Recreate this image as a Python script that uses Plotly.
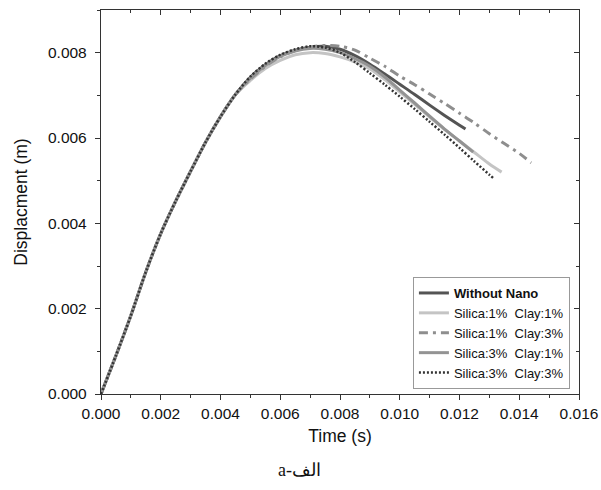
import plotly.graph_objects as go

# ---- data ----
t_rise = [0.0, 0.0005, 0.001, 0.0015, 0.002, 0.0025, 0.003, 0.0035, 0.004, 0.0045]
d_rise = [0.0, 0.00090, 0.00184, 0.00286, 0.00376, 0.00452, 0.00522, 0.00590, 0.00650, 0.00702]

t_without = t_rise + [0.005, 0.0055, 0.006, 0.0065, 0.007, 0.0075, 0.008, 0.0085, 0.009, 0.0095,
                      0.010, 0.0105, 0.011, 0.0115, 0.012, 0.0122]
d_without = d_rise + [0.00742, 0.00772, 0.00793, 0.00806, 0.00813, 0.00815, 0.00808, 0.00793, 0.00773,
                      0.00750, 0.00726, 0.00702, 0.00677, 0.00653, 0.00630, 0.00621]

t_s1c1 = t_rise + [0.005, 0.0055, 0.006, 0.0065, 0.007, 0.0075, 0.008, 0.0085, 0.009, 0.0095,
                   0.010, 0.0105, 0.011, 0.0115, 0.012, 0.0125, 0.013, 0.01341]
d_s1c1 = d_rise + [0.00735, 0.00763, 0.00782, 0.00795, 0.00800, 0.00798, 0.00790, 0.00778, 0.00762,
                   0.00737, 0.00708, 0.00679, 0.00649, 0.00620, 0.00593, 0.00566, 0.00539, 0.00520]

t_s1c3 = t_rise + [0.005, 0.0055, 0.006, 0.0065, 0.007, 0.0075, 0.008, 0.0085, 0.009, 0.0095,
                   0.010, 0.0105, 0.011, 0.0115, 0.012, 0.0125, 0.013, 0.0135, 0.014, 0.0144]
d_s1c3 = d_rise + [0.00738, 0.00768, 0.00790, 0.00805, 0.00813, 0.00817, 0.00815, 0.00806, 0.00787,
                   0.00768, 0.00745, 0.00725, 0.00703, 0.00681, 0.00658, 0.00635, 0.00610, 0.00587,
                   0.00564, 0.00542]

t_s3c1 = t_rise + [0.005, 0.0055, 0.006, 0.0065, 0.007, 0.0075, 0.008, 0.0085, 0.009, 0.0095,
                   0.010, 0.0105, 0.011, 0.0115, 0.012, 0.01246]
d_s3c1 = d_rise + [0.00740, 0.00770, 0.00791, 0.00804, 0.00810, 0.00808, 0.00800, 0.00786, 0.00768,
                   0.00743, 0.00712, 0.00682, 0.00651, 0.00621, 0.00593, 0.00567]

t_s3c3 = t_rise + [0.005, 0.0055, 0.006, 0.0065, 0.007, 0.0075, 0.008, 0.0085, 0.009, 0.0095,
                   0.010, 0.0105, 0.011, 0.0115, 0.012, 0.0125, 0.013, 0.01315]
d_s3c3 = d_rise + [0.00744, 0.00774, 0.00795, 0.00808, 0.00815, 0.00812, 0.00800, 0.00778, 0.00752,
                   0.00725, 0.00697, 0.00668, 0.00638, 0.00608, 0.00577, 0.00545, 0.00514, 0.00505]

names = ["<b>Without Nano</b>", "Silica:1%  Clay:1%", "Silica:1%  Clay:3%",
         "Silica:3%  Clay:1%", "Silica:3%  Clay:3%"]
x_ticks = [0.000, 0.002, 0.004, 0.006, 0.008, 0.010, 0.012, 0.014, 0.016]
y_ticks = [0.000, 0.002, 0.004, 0.006, 0.008]

series = [
    (t_without, d_without, dict(color="#545454", width=3, dash="solid")),
    (t_s1c1, d_s1c1, dict(color="#c4c4c4", width=3, dash="solid")),
    (t_s1c3, d_s1c3, dict(color="#8e8e8e", width=3, dash="9px,5px,3px,5px")),
    (t_s3c1, d_s3c1, dict(color="#939393", width=3, dash="solid")),
    (t_s3c3, d_s3c3, dict(color="#333333", width=2.5, dash="2px,2px")),
]

fig = go.Figure()
for (tx, dy, ln), nm in zip(series, names):
    ln = dict(ln, shape="spline", smoothing=0.8)
    fig.add_trace(go.Scatter(x=tx, y=dy, mode="lines", name=nm, line=ln))

# invisible helper trace to draw the top/right inner-tick axes
fig.add_trace(go.Scatter(x=t_without, y=d_without, xaxis="x2", yaxis="y2", mode="lines",
                         line=dict(width=0), opacity=0, showlegend=False, hoverinfo="skip"))

font_main = "Liberation Sans, Arial, sans-serif"
common = dict(showgrid=False, zeroline=False, showline=True, linecolor="#333333", linewidth=1.3,
              tickcolor="#333333", ticklen=5, tickwidth=1.2, automargin=False)

fig.update_layout(
    width=601, height=490,
    margin=dict(l=101, r=22, t=10, b=96),
    paper_bgcolor="white", plot_bgcolor="white",
    font=dict(family=font_main, size=15.5, color="#111111"),
    showlegend=True,
    legend=dict(x=0.981, y=0.013, xanchor="right", yanchor="bottom",
                bordercolor="#999999", borderwidth=1, bgcolor="white",
                font=dict(size=13, color="#111111"), tracegroupgap=0),
    xaxis=dict(range=[0, 0.016], tickvals=x_ticks, tickformat=".3f", ticks="outside", mirror=True,
               minor=dict(dtick=0.001, ticks="outside", ticklen=3, tickcolor="#333333"),
               title=dict(text="Time (s)", font=dict(size=17.5), standoff=8), **common),
    yaxis=dict(range=[0, 0.009], tickvals=y_ticks, tickformat=".3f", ticks="outside", mirror=True,
               ticklabelstandoff=5,
               minor=dict(dtick=0.001, ticks="outside", ticklen=3, tickcolor="#333333"),
               title=dict(text="Displacment (m)", font=dict(size=17.5), standoff=15), **common),
    xaxis2=dict(range=[0, 0.016], overlaying="x", side="top", anchor="y2", showticklabels=False,
                tickvals=x_ticks, ticks="inside",
                minor=dict(dtick=0.001, ticks="inside", ticklen=3, tickcolor="#333333"), **common),
    yaxis2=dict(range=[0, 0.009], overlaying="y", side="right", anchor="x2", showticklabels=False,
                tickvals=y_ticks, ticks="inside",
                minor=dict(dtick=0.001, ticks="inside", ticklen=3, tickcolor="#333333"), **common),
)

fig.add_annotation(text="a-الف", xref="paper", yref="paper", x=0.415, y=-0.198,
                   xanchor="center", yanchor="middle", showarrow=False,
                   font=dict(family="Liberation Serif, DejaVu Serif, serif", size=18, color="#111111"))

fig.write_html("out.html", config={"displayModeBar": False},
               post_script="document.body.style.margin='0';document.body.style.overflow='hidden';")
